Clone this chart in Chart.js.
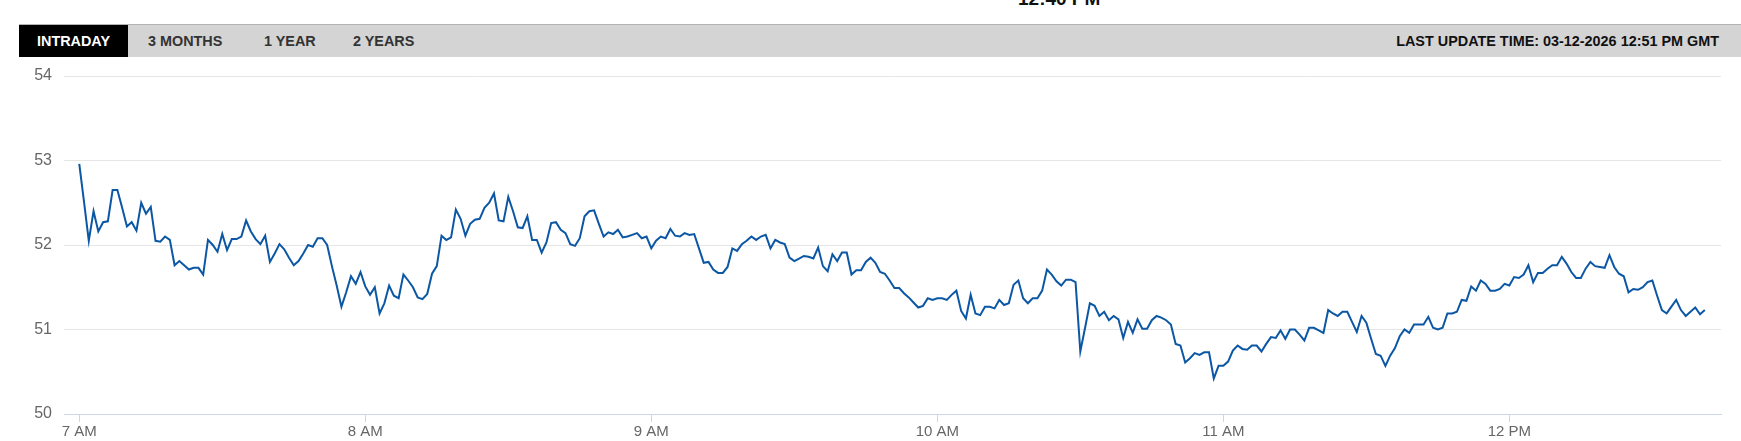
<!DOCTYPE html>
<html>
<head>
<meta charset="utf-8">
<script src="https://cdn.jsdelivr.net/npm/chart.js@4.4.1/dist/chart.umd.min.js"></script>
<style>
  html, body { margin: 0; padding: 0; background: #fff; overflow: hidden; }
  body { width: 1741px; height: 441px; position: relative; font-family: "Liberation Sans", Arial, sans-serif; }
  #lastPrice { position: absolute; left: 1018px; top: -11px; font-size: 19px; line-height: 19px; font-weight: bold; color: #111; }
  #tabBar { position: absolute; left: 19px; right: 0; top: 24px; height: 32px; background: #d4d4d4; border-top: 1px solid #b3b3b3; }
  .tab { position: absolute; top: 0; height: 32px; line-height: 32px; font-size: 14.4px; font-weight: bold; color: #333; }
  .tab.active { left: 0; width: 109px; background: #000; color: #fff; text-align: center; }
  #updated { position: absolute; right: 22px; top: 0; height: 32px; line-height: 32px; font-size: 14.4px; font-weight: bold; color: #111; }
  #chartBox { position: absolute; left: 0; top: 57px; width: 1741px; height: 387px; }
</style>
</head>
<body>
<div id="lastPrice">12:40 PM</div>
<div id="tabBar">
  <div class="tab active">INTRADAY</div>
  <div class="tab" style="left:129px">3 MONTHS</div>
  <div class="tab" style="left:245px">1 YEAR</div>
  <div class="tab" style="left:334px">2 YEARS</div>
  <div id="updated">LAST UPDATE TIME: 03-12-2026 12:51 PM GMT</div>
</div>
<div id="chartBox"><canvas id="priceChart"></canvas></div>
<script>
// --- DATA (one price per minute, starting 7:00 AM) ---
const prices = [
  52.96, 52.51, 52.05, 52.40, 52.16, 52.27, 52.28, 52.65, 52.65, 52.44,
  52.22, 52.27, 52.17, 52.50, 52.37, 52.45, 52.05, 52.04, 52.10, 52.06,
  51.76, 51.81, 51.76, 51.71, 51.73, 51.73, 51.65, 52.06, 52.00, 51.92,
  52.13, 51.94, 52.07, 52.07, 52.10, 52.29, 52.16, 52.07, 52.01, 52.11,
  51.80, 51.90, 52.01, 51.95, 51.85, 51.76, 51.81, 51.90, 52.00, 51.98,
  52.08, 52.08, 52.00, 51.75, 51.52, 51.27, 51.44, 51.63, 51.54, 51.68,
  51.51, 51.41, 51.50, 51.19, 51.31, 51.52, 51.40, 51.37, 51.65, 51.58,
  51.50, 51.38, 51.36, 51.42, 51.66, 51.75, 52.11, 52.06, 52.09, 52.42,
  52.31, 52.11, 52.25, 52.30, 52.31, 52.44, 52.50, 52.61, 52.29, 52.28,
  52.57, 52.40, 52.21, 52.20, 52.34, 52.06, 52.06, 51.91, 52.03, 52.26,
  52.27, 52.18, 52.14, 52.01, 51.99, 52.08, 52.34, 52.40, 52.41, 52.25,
  52.10, 52.15, 52.13, 52.18, 52.09, 52.10, 52.12, 52.14, 52.08, 52.10,
  51.96, 52.05, 52.10, 52.08, 52.19, 52.11, 52.10, 52.14, 52.12, 52.13,
  51.96, 51.79, 51.80, 51.71, 51.67, 51.67, 51.74, 51.96, 51.93, 52.01,
  52.05, 52.10, 52.06, 52.10, 52.12, 51.96, 52.06, 52.03, 52.01, 51.85,
  51.81, 51.84, 51.87, 51.86, 51.84, 51.97, 51.75, 51.69, 51.89, 51.81,
  51.91, 51.91, 51.65, 51.70, 51.70, 51.80, 51.85, 51.79, 51.68, 51.66,
  51.58, 51.49, 51.49, 51.43, 51.38, 51.32, 51.26, 51.28, 51.37, 51.35,
  51.37, 51.37, 51.35, 51.41, 51.46, 51.22, 51.13, 51.41, 51.19, 51.17,
  51.27, 51.27, 51.25, 51.35, 51.29, 51.31, 51.53, 51.58, 51.37, 51.31,
  51.37, 51.37, 51.46, 51.71, 51.65, 51.57, 51.52, 51.59, 51.59, 51.56,
  50.74, 51.02, 51.31, 51.28, 51.16, 51.21, 51.11, 51.16, 51.12, 50.90,
  51.09, 50.96, 51.12, 51.01, 51.01, 51.11, 51.16, 51.14, 51.11, 51.06,
  50.83, 50.81, 50.61, 50.66, 50.72, 50.70, 50.73, 50.73, 50.42, 50.57,
  50.57, 50.62, 50.75, 50.81, 50.77, 50.76, 50.81, 50.81, 50.74, 50.83,
  50.91, 50.90, 50.99, 50.89, 51.00, 51.00, 50.94, 50.87, 51.02, 51.02,
  50.99, 50.96, 51.23, 51.19, 51.16, 51.21, 51.21, 51.09, 50.97, 51.16,
  51.08, 50.89, 50.71, 50.69, 50.57, 50.69, 50.78, 50.92, 51.00, 50.96,
  51.06, 51.06, 51.06, 51.15, 51.02, 51.00, 51.02, 51.19, 51.19, 51.21,
  51.35, 51.34, 51.51, 51.46, 51.58, 51.54, 51.46, 51.46, 51.48, 51.54,
  51.52, 51.62, 51.61, 51.65, 51.76, 51.56, 51.67, 51.67, 51.72, 51.76,
  51.76, 51.86, 51.78, 51.68, 51.61, 51.61, 51.72, 51.80, 51.75, 51.74,
  51.73, 51.88, 51.74, 51.66, 51.63, 51.44, 51.48, 51.47, 51.50, 51.56,
  51.58, 51.40, 51.23, 51.19, 51.27, 51.35, 51.23, 51.16, 51.21, 51.26,
  51.18, 51.23
];

// x ticks: minutes after 7:00 AM
const hourTicks = [0, 60, 120, 180, 240, 300];
const hourLabels = ['7 AM', '8 AM', '9 AM', '10 AM', '11 AM', '12 PM'];
const yTicks = [50, 51, 52, 53, 54];

const points = prices.map((p, i) => ({ x: i, y: p }));

// --- CHART.JS SETUP ---
const ctx = document.getElementById('priceChart');
const priceChart = new Chart(ctx, {
  type: 'line',
  data: {
    datasets: [{
      data: points,
      borderColor: '#0b57a4',
      borderWidth: 2,
      pointRadius: 0,
      tension: 0,
      fill: false
    }]
  },
  options: {
    responsive: true,
    maintainAspectRatio: false,
    animation: false,
    layout: { padding: { top: 19, right: 20, left: 0, bottom: 0 } },
    plugins: {
      legend: { display: false },
      tooltip: { enabled: false }
    },
    scales: {
      x: {
        type: 'linear',
        min: -3.2,
        max: 344.4,
        afterBuildTicks: (axis) => { axis.ticks = hourTicks.map(v => ({ value: v })); },
        afterFit: (axis) => {
          axis.height = 30;
          axis.paddingLeft = 0;
          axis.paddingRight = 0;
        },
        grid: { drawOnChartArea: false, drawTicks: true, tickLength: 8, color: '#ccd6eb' },
        border: { display: true, color: '#ccd6eb', width: 1 },
        ticks: {
          autoSkip: false,
          maxRotation: 0,
          padding: 1,
          color: '#666666',
          font: { family: 'Liberation Sans', size: 15 },
          callback: (v) => hourLabels[hourTicks.indexOf(v)]
        }
      },
      y: {
        min: 50,
        max: 54,
        afterBuildTicks: (axis) => { axis.ticks = yTicks.map(v => ({ value: v })); },
        afterFit: (axis) => {
          axis.width = 64;
          axis.paddingTop = 0;
          axis.paddingBottom = 0;
        },
        grid: { color: '#e6e6e6', drawTicks: false },
        border: { display: false },
        ticks: {
          padding: 12,
          color: '#666666',
          font: { family: 'Liberation Sans', size: 16 }
        }
      }
    }
  }
});
</script>
</body>
</html>
